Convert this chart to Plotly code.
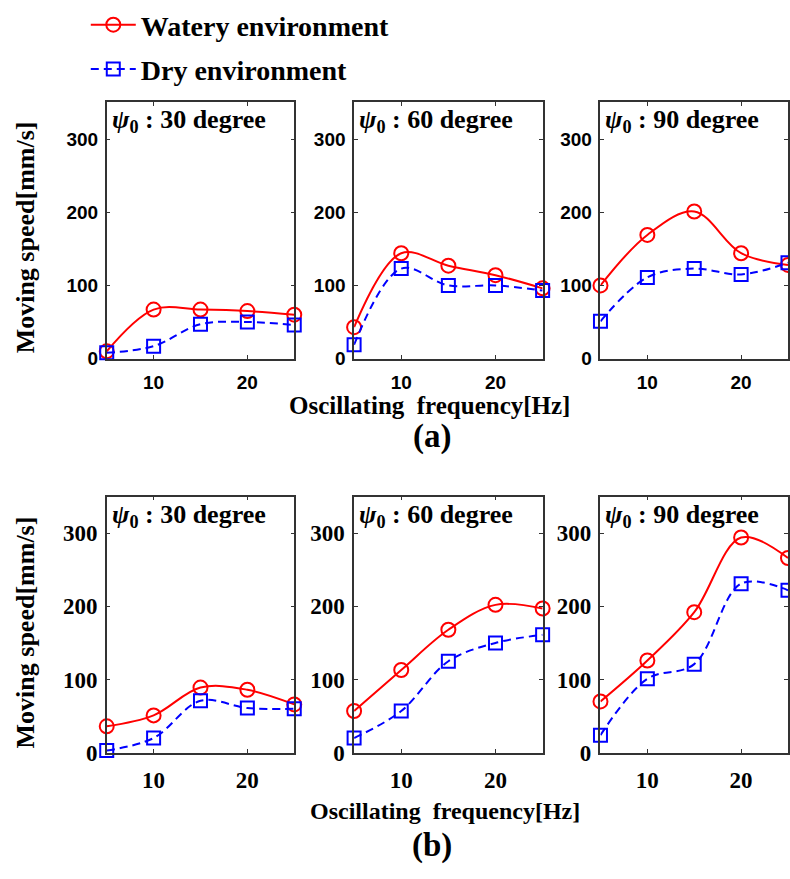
import plotly.graph_objects as go

W, H = 790, 879

freq = [5, 10, 15, 20, 25]
angles = ["30", "60", "90"]

# Row (a)
watery_a = {
    "30": [10, 67, 67, 65, 60],
    "60": [43, 144, 127, 114, 96],
    "90": [100, 169, 201, 144, 128],
}
dry_a = {
    "30": [8, 17, 47, 50, 46],
    "60": [19, 123, 100, 100, 93],
    "90": [51, 111, 123, 115, 131],
}
# Row (b)
watery_b = {
    "30": [36, 51, 89, 86, 66],
    "60": [57, 113, 168, 202, 197],
    "90": [70, 126, 192, 294, 266],
}
dry_b = {
    "30": [3, 20, 71, 61, 60],
    "60": [20, 57, 125, 150, 161],
    "90": [24, 101, 121, 231, 222],
}

x_ticks = [10, 20]
y_ticks = [0, 100, 200, 300]

SERIF = "Liberation Serif"
SANS = "Liberation Sans"
RED = "#ff0000"
BLUE = "#0000ff"

# pixel layout
col_px = [(107, 295), (355, 544), (602, 790)]
row_px = [(104, 364), (504, 764)]


def xd(p0, p1):
    return [p0 / W, min(p1 / W, 1.0)]


def yd(p0, p1):
    return [1 - p1 / H, 1 - p0 / H]


fig = go.Figure()
rows = [(watery_a, dry_a, SANS, 19), (watery_b, dry_b, SERIF, 23)]

idx = 0
for r, (wat, dry, tfam, tsize) in enumerate(rows):
    for c, ang in enumerate(angles):
        idx += 1
        xa = "x" if idx == 1 else f"x{idx}"
        ya = "y" if idx == 1 else f"y{idx}"
        first = (idx == 1)
        fig.add_trace(go.Scatter(
            x=freq, y=wat[ang], xaxis=xa, yaxis=ya,
            mode="lines+markers", name="Watery environment",
            line=dict(color=RED, width=2, shape="spline", smoothing=1.0),
            marker=dict(symbol="circle-open", size=14, color=RED, line=dict(width=2, color=RED)),
            cliponaxis=False, showlegend=first, legend="legend",
        ))
        fig.add_trace(go.Scatter(
            x=freq, y=dry[ang], xaxis=xa, yaxis=ya,
            mode="lines+markers", name="Dry environment",
            line=dict(color=BLUE, width=2, shape="spline", smoothing=1.0, dash="8px,5px"),
            marker=dict(symbol="square-open", size=13, color=BLUE, line=dict(width=2, color=BLUE)),
            cliponaxis=False, showlegend=first, legend="legend2",
        ))
        xkey = "xaxis" if idx == 1 else f"xaxis{idx}"
        ykey = "yaxis" if idx == 1 else f"yaxis{idx}"
        fig.layout[xkey] = dict(
            domain=xd(*col_px[c]), anchor=ya, range=[5, 25],
            tickvals=x_ticks, ticks="inside", ticklen=4, tickcolor="#333",
            showline=True, linecolor="#333", linewidth=1.5, mirror="ticks",
            showgrid=False, zeroline=False, ticklabelstandoff=6,
            tickfont=dict(family=tfam, size=tsize, color="black", weight="bold"),
        )
        fig.layout[ykey] = dict(
            domain=yd(*row_px[r]), anchor=xa, range=[0, 350],
            tickvals=y_ticks, ticks="inside", ticklen=4, tickcolor="#333",
            showline=True, linecolor="#333", linewidth=1.5, mirror="ticks",
            showgrid=False, zeroline=False, ticklabelstandoff=3,
            tickfont=dict(family=tfam, size=tsize, color="black", weight="bold"),
        )
        fig.add_annotation(
            xref="paper", yref="paper", x=(col_px[c][0] + 3) / W, y=1 - (row_px[r][0] + 1) / H,
            xanchor="left", yanchor="top", showarrow=False,
            text=f"<b><i>ψ</i><sub>0</sub> : {ang} degree</b>",
            font=dict(family=SERIF, size=26, color="black"),
        )

# Row-level labels
for r, (ycen, xt_x, xt_y, xt_size, lab, lab_x, lab_y) in enumerate([
    (241, 431, 412, 25, "(a)", 433, 443),
    (642, 446, 823, 24, "(b)", 433, 858),
]):
    fig.add_annotation(
        xref="paper", yref="paper", x=26 / W, y=1 - ycen / H, textangle=-90,
        showarrow=False, xanchor="center", yanchor="middle",
        text="<b>Moving speed[mm/s]</b>", font=dict(family=SERIF, size=26, color="black"),
    )
    fig.add_annotation(
        xref="paper", yref="paper", x=xt_x / W, y=1 - xt_y / H,
        showarrow=False, xanchor="center", yanchor="middle",
        text="<b>Oscillating  frequency[Hz]</b>", font=dict(family=SERIF, size=xt_size, color="black"),
    )
    fig.add_annotation(
        xref="paper", yref="paper", x=lab_x / W, y=1 - lab_y / H,
        showarrow=False, xanchor="center", yanchor="middle",
        text=f"<b>{lab}</b>", font=dict(family=SERIF, size=33, color="black"),
    )

legfont = dict(family=SERIF, size=28, color="black", weight="bold")
fig.update_layout(
    width=W, height=H, margin=dict(l=0, r=0, t=0, b=0),
    paper_bgcolor="white", plot_bgcolor="white",
    legend=dict(x=86 / W, y=1 - 0 / H, xanchor="left", yanchor="top", font=legfont,
                bgcolor="rgba(0,0,0,0)", itemwidth=45),
    legend2=dict(x=86 / W, y=1 - 45 / H, xanchor="left", yanchor="top", font=legfont,
                 bgcolor="rgba(0,0,0,0)", itemwidth=45),
)

fig.write_html("out.html")
